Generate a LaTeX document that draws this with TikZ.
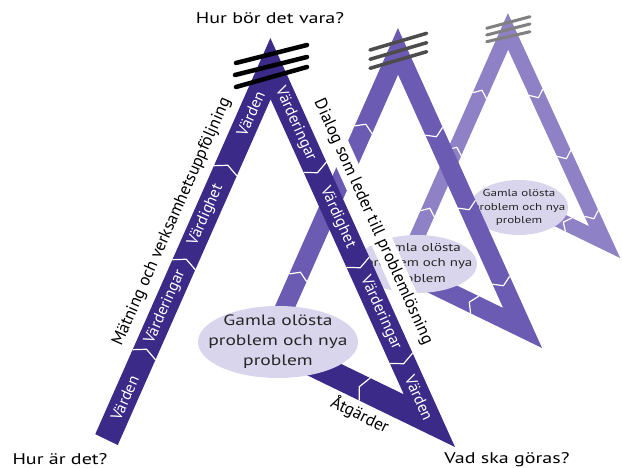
\documentclass[tikz,border=0pt]{standalone}
\usepackage{fontspec}
\setmainfont{PT Sans}
\newfontfamily\widefont{PT Sans}[FakeStretch=1.3]
\definecolor{bandone}{HTML}{3B2A88}
\definecolor{bandtwo}{HTML}{6B5BB3}
\definecolor{bandthree}{HTML}{8E81C6}
\definecolor{bubblefill}{HTML}{D9D5EC}
\newcommand{\bandsep}[4]{\draw[sepline,shift={(#1,#2)},rotate=#3] (-3,-#4) -- (3,0) -- (-3,#4);}
\tikzset{
  bandline/.style={line width=#1, line join=miter},
  sepline/.style={white, line width=1.2pt, line join=round},
  hatchline/.style={line width=#1, line cap=round},
  bandtext/.style={text=white, font=\fontsize{16}{16}\selectfont, inner sep=0pt},
  sidetext/.style={font=\fontsize{17}{17}\selectfont, inner sep=1pt},
  cornertext/.style={font=\widefont\fontsize{15.4}{16}\selectfont, inner sep=1pt},
  bubbletext/.style={text=black!85, align=center, inner sep=0pt},
}

\begin{document}
\begin{tikzpicture}[x=1pt,y=1pt]
    \useasboundingbox (0,0) rectangle (622,468);
    % back triangle
    \path (406,206) coordinate(t3l) (508,436.6) coordinate(t3a) (604.7,225.8) coordinate(t3b) (537.2,258.6) coordinate(t3d);
    \draw[bandline=15pt, bandthree] (t3l) -- (t3a) -- (t3b) -- (t3d);
    \bandsep{480.8}{375}{66.1}{7.5}
    \bandsep{455.6}{318}{66.1}{7.5}
    \bandsep{428.6}{257}{66.1}{7.5}
    \bandsep{537.2}{373}{-65.35}{7.5}
    \bandsep{565.2}{312}{-65.35}{7.5}
    \bandsep{592.7}{252}{-65.35}{7.5}
    \bandsep{566}{244.6}{154.1}{7.5}
    \draw[hatchline=3pt, black!50] (486.7,439.7) -- (530,451.3);
    \draw[hatchline=3pt, black!50] (486.7,433) -- (530,444);
    \draw[hatchline=3pt, black!50] (486.7,426.3) -- (530,436.3);
    \fill[bubblefill] (519,260.5) ellipse [x radius=49, y radius=27.5];
    \node[bubbletext, font=\widefont\fontsize{10}{13.5}\selectfont] (e3) at (519,260.5) {Gamla olösta\\problem och nya\\problem};
    % middle triangle
    \path (272.6,133) coordinate(t2l) (398,416.6) coordinate(t2a) (522.6,140) coordinate(t2b) (419.1,190.3) coordinate(t2d);
    \draw[bandline=19pt, bandtwo] (t2l) -- (t2a) -- (t2b) -- (t2d);
    \bandsep{364.6}{341}{66.15}{9.5}
    \bandsep{299.2}{193}{66.15}{9.5}
    \bandsep{435.2}{334}{-65.75}{9.5}
    \bandsep{468}{261}{-65.75}{9.5}
    \bandsep{502.2}{185}{-65.75}{9.5}
    \bandsep{472}{164.6}{154.1}{9.5}
    \draw[hatchline=3.5pt, black!70] (370,418) -- (426.7,434.7);
    \draw[hatchline=3.5pt, black!70] (370,408.7) -- (426.7,425.3);
    \draw[hatchline=3.5pt, black!70] (370,399.7) -- (426.7,416.3);
    \fill[bubblefill] (417,204) ellipse [x radius=60, y radius=29];
    \node[bubbletext, font=\widefont\fontsize{11.5}{15.5}\selectfont] (e2) at (419,204) {Gamla olösta\\problem och nya\\problem};
    \node[sidetext, rotate=-65.7, fill=white, inner sep=3pt] (dialog) at (373,246) {Dialog som leder till problemlösning};
    % front triangle
    \path (97.5,8) coordinate(t1l) (270.5,399.3) coordinate(t1a) (429.4,47.3) coordinate(t1b) (280.9,119.4) coordinate(t1d);
    \begin{scope}
    \clip (-85,121.4) -- (455,-140.8) -- (700,-140.8) -- (700,600) -- (-100,600) -- cycle;
    \draw[bandline=25pt, bandone] (t1l) -- (t1a) -- (t1b) -- (t1d);
    \end{scope}
    \bandsep{145.3}{116}{66.15}{12.5}
    \bandsep{185.1}{206}{66.15}{12.5}
    \bandsep{226.6}{300}{66.15}{12.5}
    \bandsep{316.2}{298}{-65.7}{12.5}
    \bandsep{359.1}{203}{-65.7}{12.5}
    \bandsep{402.4}{107}{-65.7}{12.5}
    \bandsep{362}{80}{154.1}{12.5}
    \draw[hatchline=4.5pt, black] (236,405) -- (307,423);
    \draw[hatchline=4.5pt, black] (235,393) -- (307,411);
    \draw[hatchline=4.5pt, black] (236,381) -- (307,401);
    \node[bandtext, rotate=66.15] (lv1) at (124.9,70) {Värden};
    \node[bandtext, rotate=66.15] (lv2) at (165.2,161) {Värderingar};
    \node[bandtext, rotate=66.15] (lv3) at (205.8,253) {Värdighet};
    \node[bandtext, rotate=66.15] (lv4) at (250.7,354.5) {Värden};
    \node[bandtext, rotate=-65.7] (rv1) at (295.5,344) {Värderingar};
    \node[bandtext, rotate=-65.7] (rv2) at (337.7,250.5) {Värdighet};
    \node[bandtext, rotate=-65.7] (rv3) at (380.8,155) {Värderingar};
    \node[bandtext, rotate=-65.7] (rv4) at (419.1,70) {Värden};
    \fill[bubblefill] (278,126) ellipse [x radius=80, y radius=36];
    \node[bubbletext, font=\widefont\fontsize{15}{20}\selectfont] (e1) at (278,126) {Gamla olösta\\problem och nya\\problem};
    % labels
    \node[cornertext] (should) at (270,450) {Hur bör det vara?};
    \node[cornertext] (now) at (60,9) {Hur är det?};
    \node[cornertext] (todo) at (507,8) {Vad ska göras?};
    \node[sidetext, rotate=66.15] (measure) at (172,246) {Mätning och verksamhetsuppföljning};
    \node[sidetext, rotate=-26] (actions) at (360,53) {Åtgärder};
\end{tikzpicture}
\end{document}
